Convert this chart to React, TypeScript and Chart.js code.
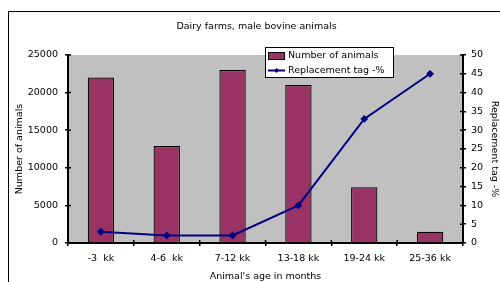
import React, { useEffect, useRef } from 'react';
import { Chart, registerables } from 'chart.js';

Chart.register(...registerables);

const categories = ['-3  kk', '4-6  kk', '7-12 kk', '13-18 kk', '19-24 kk', '25-36 kk'];
const animals = [22000, 12900, 23000, 21000, 7400, 1500];
const replacementPct = [3, 2, 2, 10, 33, 45];

const chartTitle = 'Dairy farms, male bovine animals';
const leftAxisTitle = 'Number of animals';
const rightAxisTitle = 'Replacement tag -%';
const xAxisTitle = "Animal's age in months";
const seriesNames = ['Number of animals', 'Replacement tag -%'];

const BAR_COLOR = '#993366';
const LINE_COLOR = '#000080';
const FONT = 'DejaVu Sans';
const FS = 9.5;

const decor = {
  id: 'decor',
  beforeDraw(chart: any) {
    const { ctx, chartArea: a } = chart;
    ctx.save();
    ctx.fillStyle = '#ffffff';
    ctx.fillRect(0, 0, chart.width, chart.height);
    ctx.strokeStyle = '#000';
    ctx.lineWidth = 1;
    ctx.beginPath();
    ctx.moveTo(8.5, chart.height + 2);
    ctx.lineTo(8.5, 11.5);
    ctx.lineTo(chart.width + 2, 11.5);
    ctx.stroke();
    ctx.fillStyle = '#C0C0C0';
    ctx.fillRect(a.left, a.top, a.right - a.left, a.bottom - a.top);
    ctx.restore();
  },
  afterDraw(chart: any) {
    const { ctx, chartArea: a } = chart;
    const y = chart.scales.y;
    const y2 = chart.scales.y2;
    const x = chart.scales.x;
    ctx.save();
    ctx.strokeStyle = '#000';
    ctx.lineWidth = 1.5;
    ctx.beginPath();
    y.ticks.forEach((_t: any, i: number) => {
      const p = y.getPixelForTick(i);
      ctx.moveTo(a.left, p);
      ctx.lineTo(a.left + 3, p);
    });
    y2.ticks.forEach((_t: any, i: number) => {
      const p = y2.getPixelForTick(i);
      ctx.moveTo(a.right - 3, p);
      ctx.lineTo(a.right, p);
    });
    for (let i = 0; i <= categories.length; i++) {
      const p = x.getPixelForValue(i - 0.5);
      ctx.moveTo(p, a.bottom - 3);
      ctx.lineTo(p, a.bottom);
    }
    ctx.stroke();

    // title
    ctx.fillStyle = '#000';
    ctx.font = `${FS}px "${FONT}"`;
    ctx.textAlign = 'center';
    ctx.textBaseline = 'middle';
    ctx.fillText(chartTitle, 256.5, 27);

    // legend
    ctx.fillStyle = '#fff';
    ctx.fillRect(265.5, 47.5, 128, 30);
    ctx.strokeStyle = '#000';
    ctx.lineWidth = 1;
    ctx.strokeRect(265.5, 47.5, 128, 30);
    ctx.fillStyle = BAR_COLOR;
    ctx.fillRect(268.5, 52.5, 16, 7);
    ctx.strokeRect(268.5, 52.5, 16, 7);
    ctx.strokeStyle = LINE_COLOR;
    ctx.lineWidth = 2;
    ctx.beginPath();
    ctx.moveTo(268, 70.5);
    ctx.lineTo(285, 70.5);
    ctx.stroke();
    ctx.fillStyle = LINE_COLOR;
    ctx.beginPath();
    ctx.moveTo(276.5, 68);
    ctx.lineTo(279, 70.5);
    ctx.lineTo(276.5, 73);
    ctx.lineTo(274, 70.5);
    ctx.closePath();
    ctx.fill();
    ctx.fillStyle = '#000';
    ctx.textAlign = 'left';
    ctx.fillText(seriesNames[0], 288, 56);
    ctx.fillText(seriesNames[1], 288, 71);
    ctx.restore();
  },
};

export default function App() {
  const ref = useRef<HTMLCanvasElement | null>(null);
  useEffect(() => {
    if (!ref.current) return;
    const font = { family: FONT, size: FS };
    const plain = (v: any) => String(v);
    const chart = new Chart(ref.current, {
      type: 'bar',
      data: {
        labels: categories,
        datasets: [
          {
            type: 'line',
            label: seriesNames[1],
            data: replacementPct,
            yAxisID: 'y2',
            borderColor: LINE_COLOR,
            backgroundColor: LINE_COLOR,
            borderWidth: 2,
            pointStyle: 'rectRot',
            pointRadius: 2.5,
            tension: 0,
            order: 0,
          } as any,
          {
            type: 'bar',
            label: seriesNames[0],
            data: animals,
            yAxisID: 'y',
            backgroundColor: BAR_COLOR,
            borderColor: '#000',
            borderWidth: 1.2,
            barPercentage: 0.4,
            categoryPercentage: 1,
            order: 1,
          },
        ],
      },
      options: {
        responsive: false,
        animation: false,
        devicePixelRatio: 1,
        layout: { padding: { top: 55, left: 0, right: 0, bottom: 0 } },
        plugins: { legend: { display: false }, tooltip: { enabled: false }, title: { display: false } },
        scales: {
          x: {
            offset: true,
            grid: { display: true, drawOnChartArea: false, offset: true, tickLength: 3, color: '#000', lineWidth: 1.5 },
            border: { display: true, color: '#000', width: 2 },
            ticks: { font, color: '#000', padding: 7, maxRotation: 0, autoSkip: false },
            title: { display: true, text: xAxisTitle, font, color: '#000', padding: { top: 0, bottom: 0 } },
            afterFit: (s: any) => { s.height = 39; },
          },
          y: {
            position: 'left',
            min: 0,
            max: 25000,
            ticks: { stepSize: 5000, font, color: '#000', padding: 7, callback: plain },
            grid: { display: true, drawOnChartArea: false, tickLength: 3, color: '#000', lineWidth: 1.5 },
            border: { display: true, color: '#000', width: 2 },
            title: { display: true, text: leftAxisTitle, font, color: '#000', padding: { top: 14, bottom: 0 } },
            afterFit: (s: any) => { s.width = 68; },
          },
          y2: {
            position: 'right',
            min: 0,
            max: 50,
            ticks: { stepSize: 5, font, color: '#000', padding: 5, callback: plain },
            grid: { display: true, drawOnChartArea: false, tickLength: 3, color: '#000', lineWidth: 1.5 },
            border: { display: true, color: '#000', width: 2 },
            title: { display: true, text: rightAxisTitle, font, color: '#000', padding: { top: 0, bottom: 0 } },
            afterFit: (s: any) => { s.width = 37; },
          },
        },
      },
      plugins: [decor],
    });
    return () => chart.destroy();
  }, []);
  return (
    <div style={{ position: 'fixed', left: 0, top: 0, width: 500, height: 282 }}>
      <canvas ref={ref} width={500} height={282} style={{ display: 'block', width: 500, height: 282 }} />
    </div>
  );
}
